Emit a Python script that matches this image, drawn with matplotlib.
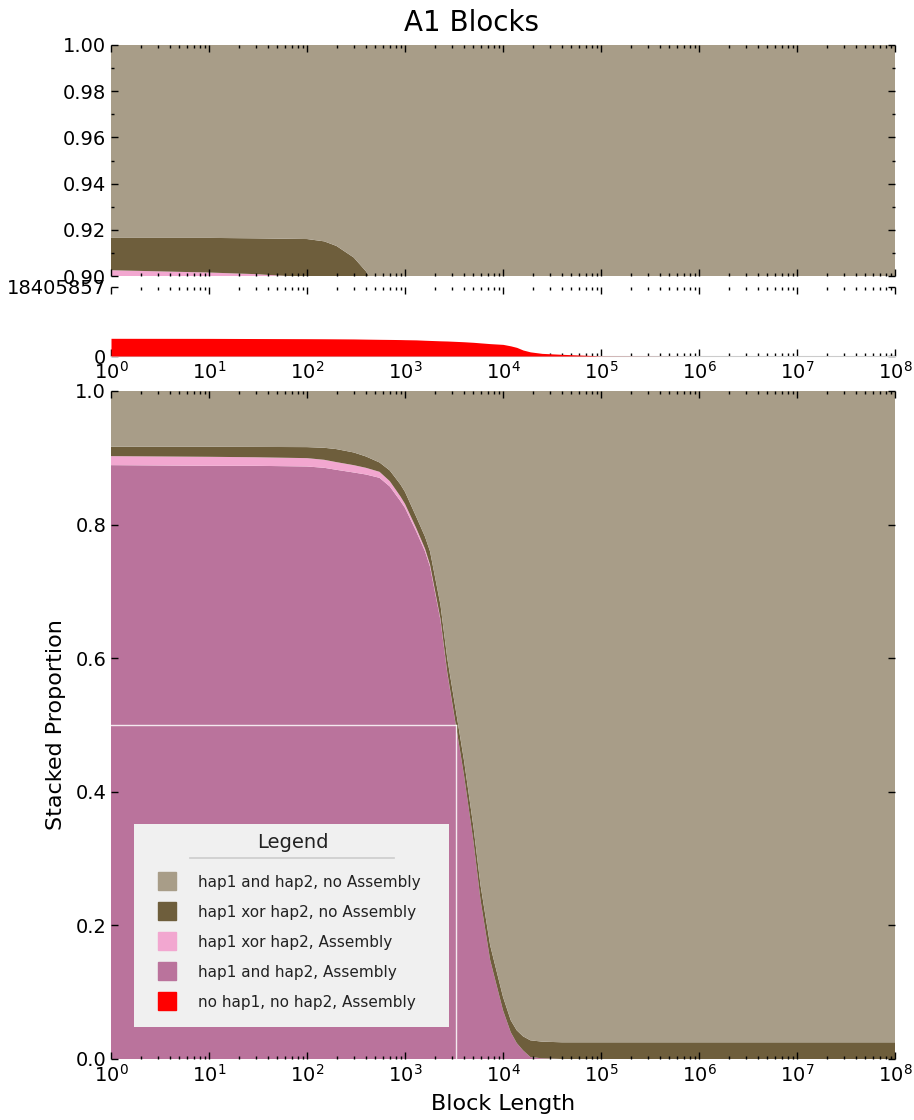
import numpy as np
import matplotlib
matplotlib.use("Agg")
import matplotlib.pyplot as plt
from matplotlib.lines import Line2D

# block length sample points (bp)
block_length = [1, 10, 30, 100, 150, 200, 300, 400, 550, 700, 900, 1000, 1300,
                1600, 1800, 2300, 2700, 3300, 4000, 5000, 5900, 7400, 10000,
                12000, 13800, 16000, 19000, 25000, 40000, 70000, 100000,
                1000000, 10000000, 100000000]

# stacked proportions (bottom -> top)
both_asm = [0.889, 0.888, 0.888, 0.887, 0.885, 0.882, 0.878, 0.875, 0.870, 0.857,
            0.835, 0.825, 0.790, 0.760, 0.737, 0.657, 0.578, 0.500, 0.425, 0.325,
            0.238, 0.148, 0.073, 0.040, 0.024, 0.013, 0.003, 0.001, 0.0, 0.0,
            0.0, 0.0, 0.0, 0.0]
xor_asm = [0.0135, 0.0135, 0.0128, 0.0125, 0.012, 0.0115, 0.011, 0.010, 0.009, 0.008,
           0.007, 0.006, 0.005, 0.004, 0.003, 0.002, 0.001, 0.0005, 0.0, 0.0,
           0.0, 0.0, 0.0, 0.0, 0.0, 0.0, 0.0, 0.0, 0.0, 0.0,
           0.0, 0.0, 0.0, 0.0]
xor_noasm = [0.014, 0.015, 0.0155, 0.0165, 0.018, 0.0195, 0.019, 0.017, 0.014, 0.016,
             0.018, 0.018, 0.017, 0.018, 0.020, 0.021, 0.021, 0.0215, 0.022, 0.022,
             0.022, 0.022, 0.020, 0.018, 0.019, 0.021, 0.025, 0.025, 0.025, 0.025,
             0.025, 0.025, 0.025, 0.025]
both_noasm = list(1 - np.array(both_asm) - np.array(xor_asm) - np.array(xor_noasm))

# no hap1, no hap2, Assembly (absolute bp)
none_asm = [4.72e6, 4.70e6, 4.66e6, 4.62e6, 4.60e6, 4.58e6, 4.55e6, 4.50e6, 4.45e6, 4.42e6,
            4.38e6, 4.35e6, 4.30e6, 4.20e6, 4.15e6, 4.05e6, 4.00e6, 3.90e6, 3.80e6, 3.65e6,
            3.50e6, 3.30e6, 3.10e6, 2.70e6, 2.30e6, 1.60e6, 1.10e6, 0.70e6, 0.45e6, 0.20e6,
            0.03e6, 0.0, 0.0, 0.0]
total_bp = 18405857
n50 = 3300

labels = ["hap1 and hap2, no Assembly", "hap1 xor hap2, no Assembly",
          "hap1 xor hap2, Assembly", "hap1 and hap2, Assembly",
          "no hap1, no hap2, Assembly"]
colors = ["#A89D88", "#6E5E3C", "#F2A7D0", "#BA739C", "#FF0000"]

fig = plt.figure(figsize=(9.14, 11.2), dpi=100)
L, W = 111/914, 784/914
ax_top = fig.add_axes([L, 1-276/1120, W, 231/1120])
ax_mid = fig.add_axes([L, 1-356/1120, W, 69/1120])
ax_bot = fig.add_axes([L, 1-1059/1120, W, 668/1120])

stack = [both_asm, xor_asm, xor_noasm, both_noasm]
stack_colors = [colors[3], colors[2], colors[1], colors[0]]

for ax in (ax_top, ax_bot):
    ax.stackplot(block_length, *stack, colors=stack_colors, linewidth=0)

ax_mid.fill_between(block_length, 0, none_asm, color=colors[4], linewidth=0, zorder=3)

# N50 marker
ax_bot.plot([1, n50], [0.5, 0.5], color="white", lw=1, alpha=0.85)
ax_bot.plot([n50, n50], [0, 0.5], color="white", lw=1, alpha=0.85)

for ax in (ax_top, ax_mid, ax_bot):
    ax.set_xscale("log")
    ax.set_xlim(1, 1e8)
    ax.xaxis.set_major_locator(matplotlib.ticker.LogLocator(base=10, numticks=10))
    ax.xaxis.set_minor_locator(matplotlib.ticker.LogLocator(base=10, subs=np.arange(2, 10), numticks=10))
    ax.tick_params(which="both", direction="in", top=True, right=True,
                   labelsize=14, color="black", width=1)
    ax.tick_params(which="major", length=5)
    ax.tick_params(which="minor", length=2.5)
    for s in ax.spines.values():
        s.set_visible(False)

ax_top.set_ylim(0.90, 1.00)
ax_top.set_yticks([0.90, 0.92, 0.94, 0.96, 0.98, 1.00])
ax_top.yaxis.set_minor_locator(matplotlib.ticker.MultipleLocator(0.01))
ax_top.yaxis.set_major_formatter(matplotlib.ticker.FormatStrFormatter("%.2f"))
ax_top.tick_params(labelbottom=False)

ax_mid.set_ylim(0, total_bp)
ax_mid.set_yticks([0, total_bp])
ax_mid.set_yticklabels(["0", str(total_bp)])
ax_mid.spines["bottom"].set_visible(True)
ax_mid.spines["bottom"].set_color("#cccccc")

ax_bot.set_ylim(0, 1.0)
ax_bot.set_yticks([0.0, 0.2, 0.4, 0.6, 0.8, 1.0])
ax_bot.yaxis.set_major_formatter(matplotlib.ticker.FormatStrFormatter("%.1f"))
ax_bot.set_ylabel("Stacked Proportion", fontsize=16, labelpad=7)
ax_bot.set_xlabel("Block Length", fontsize=16, labelpad=6)

fig.text(471/914, 1-23/1120, "A1 Blocks", ha="center", va="center", fontsize=20)

handles = [Line2D([], [], linestyle="none", marker="s", markersize=12.5,
                  markerfacecolor=c, markeredgecolor=c) for c in colors]
# blank title reserves the header space; the header text is drawn below
leg = ax_bot.legend(handles, labels, title=" ", loc="lower left",
                    bbox_to_anchor=(0.029, 0.048, 0.402, 0.30), mode="expand",
                    borderaxespad=0, fontsize=11, title_fontsize=12.5,
                    frameon=True, fancybox=False,
                    facecolor="#F0F0F0", edgecolor="none", framealpha=1,
                    handlelength=2.12, handletextpad=0.93, labelspacing=0.98,
                    borderpad=1.14)
leg.get_frame().set_linewidth(0)
for t in leg.get_texts():
    t.set_color("#222222")

fig.text(293/914, 1-842/1120, "Legend", ha="center", va="center",
         fontsize=14, color="#222222")
fig.add_artist(Line2D([190/914, 394/914], [1-858/1120, 1-858/1120],
                      color="#cccccc", lw=1.2))

fig.savefig("out.png", dpi=100)
